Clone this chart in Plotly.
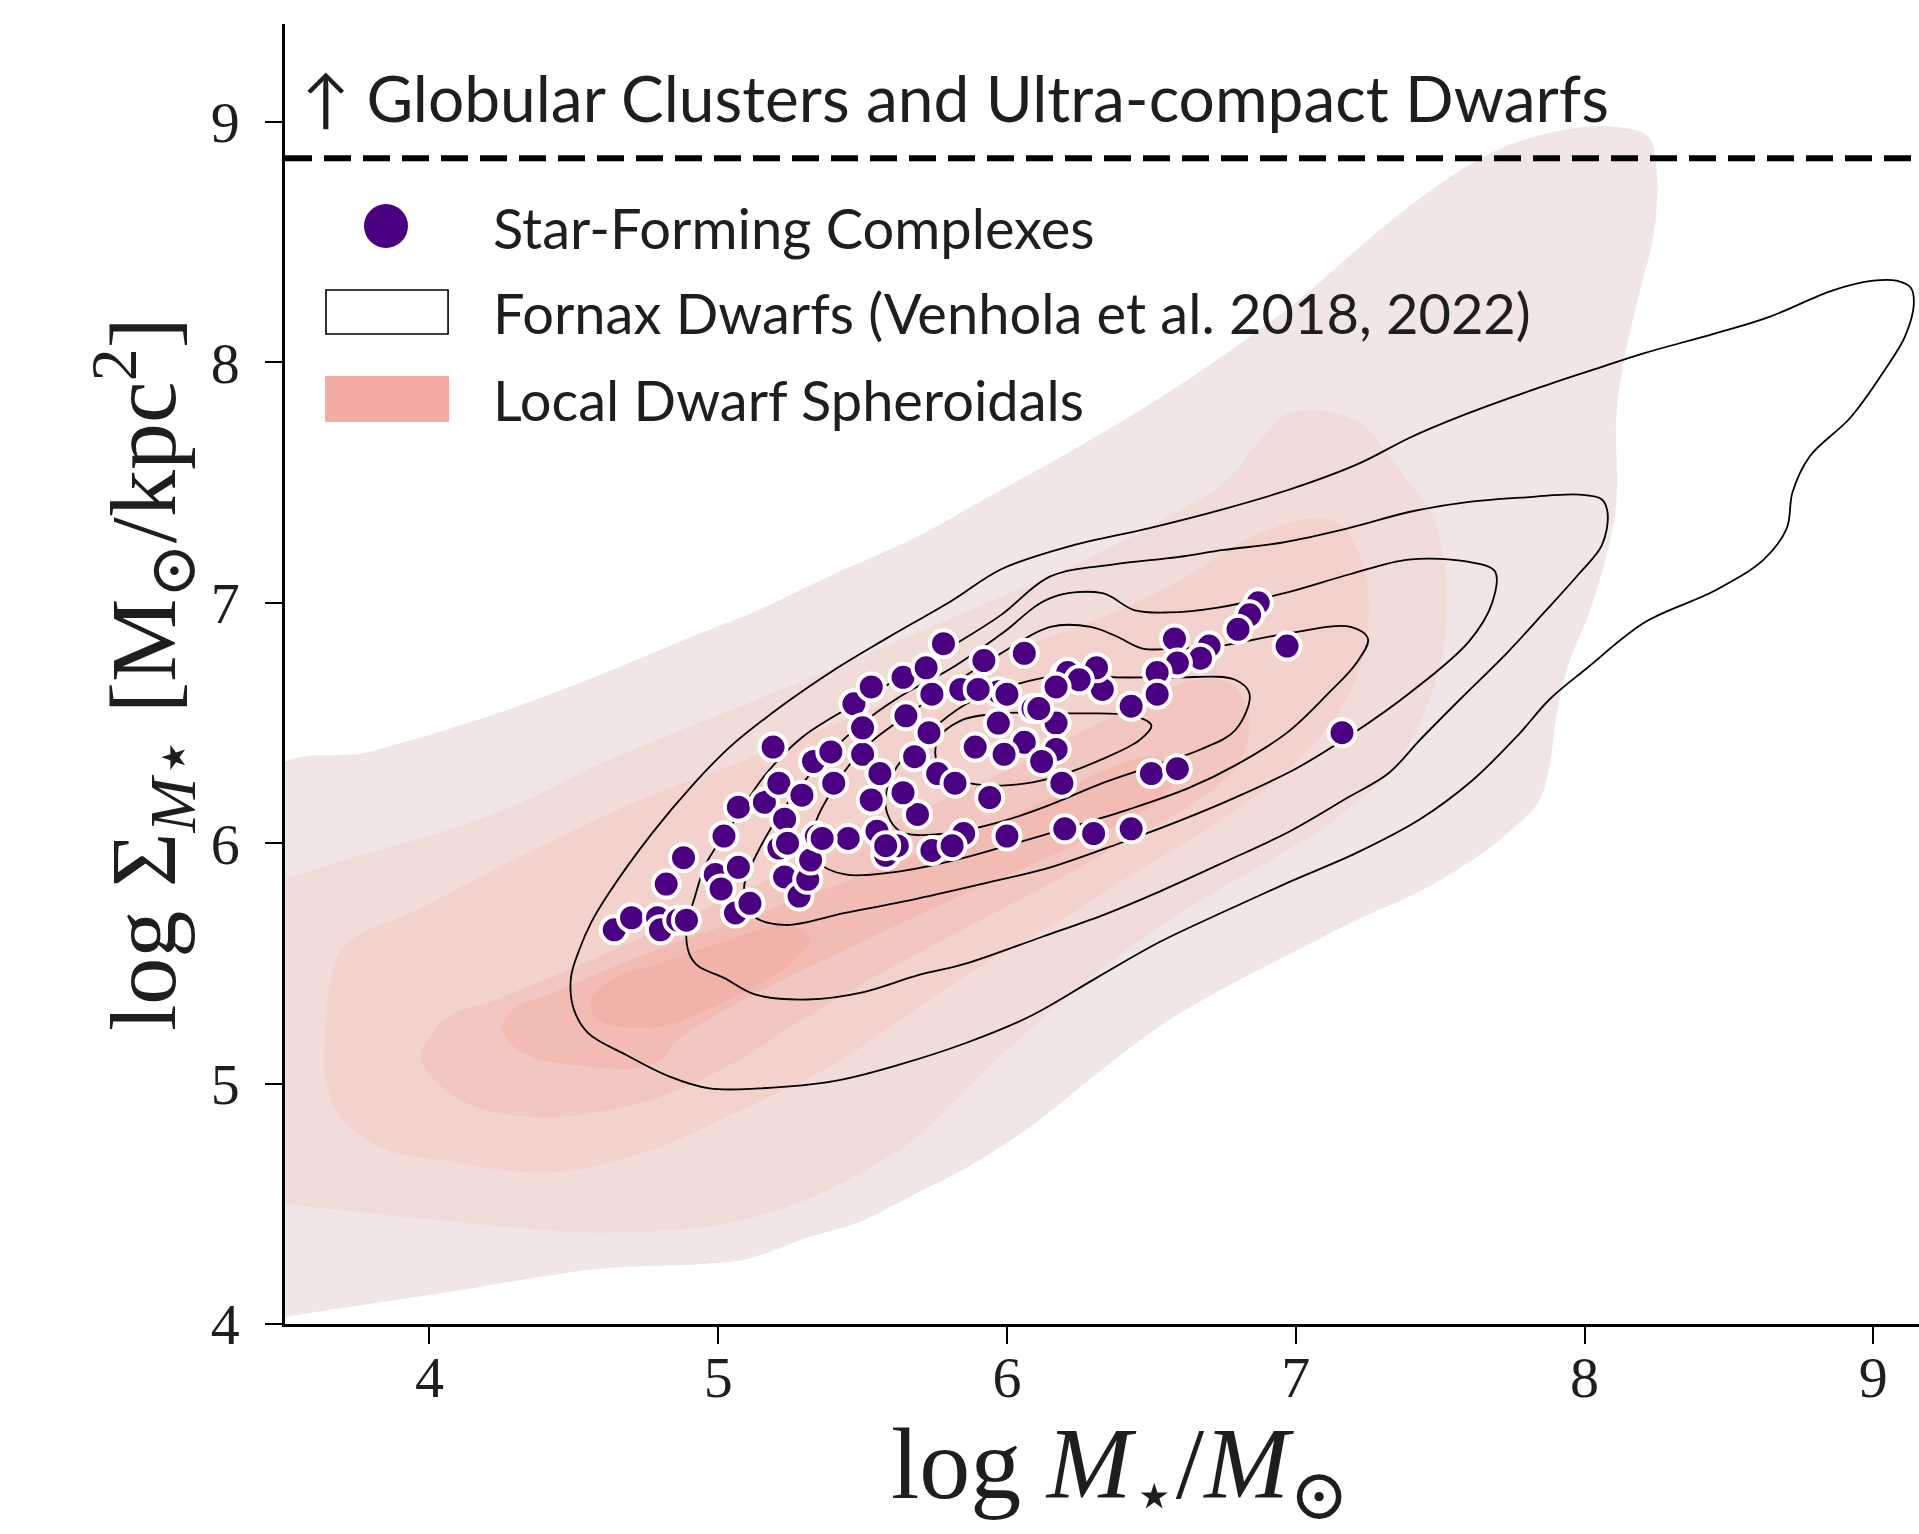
import plotly.graph_objects as go

# ---------------- data ----------------
# Star-forming complexes (log M*, log Sigma)
sfc_logm = [4.64, 4.70, 4.79, 4.80, 4.86, 4.89, 4.82, 4.88, 4.99, 5.01, 5.07, 5.06, 5.11, 5.02, 5.07,
            5.16, 5.19, 5.21, 5.23, 5.21, 5.23, 5.28, 5.31, 5.29, 5.32, 5.34, 5.33, 5.39, 5.40, 5.45,
            5.47, 5.50, 5.53, 5.53, 5.55, 5.56, 5.58, 5.62, 5.64, 5.65, 5.69, 5.74, 5.73, 5.72, 5.76,
            5.78, 5.84, 5.85, 5.89, 5.92, 5.97, 5.97, 5.94, 6.00, 6.06, 6.09, 6.06, 6.20, 5.50, 5.90,
            6.17, 5.99, 6.17, 5.68, 5.82, 6.19, 5.64, 5.74, 5.81, 6.20, 5.58, 5.24, 5.36, 6.87, 6.84,
            6.80, 6.97, 6.58, 6.70, 6.67, 6.59, 6.52, 6.52, 6.43, 6.33, 6.31, 6.21, 6.25, 6.17, 6.11,
            6.00, 6.12, 6.50, 6.59, 7.16, 6.30, 6.43]
sfc_logsig = [5.64, 5.69, 5.69, 5.64, 5.68, 5.68, 5.83, 5.94, 5.87, 5.81, 5.90, 5.71, 5.75, 6.03, 6.15,
              6.17, 6.40, 6.25, 6.10, 5.98, 5.86, 5.78, 5.85, 6.20, 5.93, 6.03, 6.34, 6.38, 6.25, 6.02,
              6.58, 6.37, 6.65, 6.18, 6.05, 6.29, 5.95, 5.99, 6.69, 6.53, 6.12, 6.62, 6.46, 6.73, 6.29,
              6.83, 6.64, 6.04, 6.40, 6.76, 6.63, 6.50, 6.19, 6.03, 6.79, 6.56, 6.42, 6.70, 6.48, 6.64,
              6.50, 6.37, 6.39, 6.36, 6.25, 6.25, 6.21, 5.97, 5.99, 6.06, 5.99, 6.00, 6.02, 7.00, 6.95,
              6.89, 6.82, 6.85, 6.82, 6.77, 6.75, 6.71, 6.62, 6.57, 6.64, 6.73, 6.71, 6.68, 6.65, 6.56,
              6.62, 6.34, 6.29, 6.31, 6.46, 6.04, 6.06]

# Fornax dwarfs density contours (outer -> inner)
fornax_c1_x = [4.50, 4.49, 4.52, 4.56, 4.62, 4.77, 4.91, 5.04, 5.23, 5.40, 5.58, 5.81, 5.98, 6.23, 6.49,
               6.75, 7.00, 7.22, 7.40, 7.60, 7.83, 8.03, 8.21, 8.45, 8.64, 8.86, 9.00, 9.08, 9.13, 9.14,
               9.11, 9.04, 8.92, 8.78, 8.72, 8.70, 8.62, 8.45, 8.21, 8.01, 7.88, 7.77, 7.61, 7.43, 7.21,
               6.98, 6.76, 6.53, 6.31, 6.08, 5.86, 5.63, 5.40, 5.14, 4.97, 4.83, 4.68, 4.55]
fornax_c1_y = [5.31, 5.44, 5.56, 5.67, 5.79, 6.04, 6.24, 6.40, 6.58, 6.72, 6.85, 7.01, 7.14, 7.24, 7.31,
               7.39, 7.48, 7.58, 7.69, 7.79, 7.89, 7.97, 8.04, 8.12, 8.19, 8.30, 8.34, 8.34, 8.31, 8.24,
               8.11, 7.97, 7.77, 7.61, 7.46, 7.31, 7.18, 7.05, 6.92, 6.73, 6.60, 6.45, 6.26, 6.10, 5.96,
               5.84, 5.72, 5.59, 5.44, 5.28, 5.17, 5.08, 5.01, 4.98, 4.98, 5.03, 5.12, 5.21]
fornax_c2_x = [4.90, 4.89, 4.92, 4.96, 5.06, 5.16, 5.29, 5.46, 5.63, 5.81, 5.98, 6.15, 6.37, 6.59, 6.75,
               6.95, 7.18, 7.40, 7.60, 7.81, 7.98, 8.06, 8.08, 8.06, 7.98, 7.86, 7.73, 7.57, 7.43, 7.32,
               7.18, 6.98, 6.75, 6.53, 6.33, 6.12, 5.86, 5.69, 5.50, 5.31, 5.13, 5.02, 4.93]
fornax_c2_y = [5.54, 5.64, 5.78, 5.92, 6.10, 6.28, 6.44, 6.57, 6.69, 6.82, 6.95, 7.11, 7.16, 7.19, 7.22,
               7.25, 7.31, 7.38, 7.42, 7.44, 7.45, 7.43, 7.37, 7.24, 7.12, 6.96, 6.79, 6.60, 6.43, 6.29,
               6.19, 6.05, 5.92, 5.80, 5.70, 5.61, 5.50, 5.45, 5.38, 5.35, 5.37, 5.44, 5.49]
fornax_c3_x = [7.69, 7.60, 7.39, 7.19, 6.96, 6.73, 6.56, 6.44, 6.33, 6.15, 5.98, 5.81, 5.63, 5.48, 5.35,
               5.23, 5.14, 5.09, 5.12, 5.23, 5.44, 5.69, 5.91, 6.15, 6.39, 6.59, 6.79, 7.00, 7.19, 7.40,
               7.60, 7.68]
fornax_c3_y = [7.13, 7.17, 7.18, 7.12, 7.04, 6.98, 6.96, 6.97, 7.04, 7.02, 6.87, 6.73, 6.61, 6.48, 6.33,
               6.15, 5.97, 5.82, 5.70, 5.66, 5.71, 5.77, 5.83, 5.90, 6.00, 6.09, 6.19, 6.31, 6.45, 6.63,
               6.84, 7.00]
fornax_c4_x = [7.25, 7.19, 6.96, 6.73, 6.59, 6.47, 6.38, 6.29, 6.15, 5.98, 5.81, 5.65, 5.50, 5.40, 5.33,
               5.35, 5.44, 5.61, 5.82, 6.03, 6.20, 6.42, 6.63, 6.80, 6.97, 7.11, 7.21]
fornax_c4_y = [6.85, 6.90, 6.87, 6.82, 6.81, 6.81, 6.86, 6.90, 6.90, 6.79, 6.66, 6.53, 6.39, 6.23, 6.05,
               5.92, 5.87, 5.88, 5.93, 6.00, 6.06, 6.14, 6.23, 6.33, 6.46, 6.62, 6.75]
fornax_c5_x = [6.84, 6.79, 6.58, 6.38, 6.20, 6.03, 5.86, 5.72, 5.61, 5.58, 5.63, 5.78, 5.98, 6.15, 6.33,
               6.50, 6.67, 6.79]
fornax_c5_y = [6.62, 6.68, 6.69, 6.69, 6.70, 6.66, 6.58, 6.45, 6.30, 6.15, 6.05, 6.04, 6.09, 6.16, 6.25,
               6.32, 6.39, 6.47]
fornax_c6_x = [6.50, 6.44, 6.21, 5.98, 5.84, 5.76, 5.76, 5.84, 5.98, 6.15, 6.33, 6.46]
fornax_c6_y = [6.49, 6.53, 6.54, 6.54, 6.51, 6.43, 6.33, 6.26, 6.24, 6.27, 6.35, 6.43]

# Local dwarf spheroidals filled density levels (outer -> inner)
lds_p1_x = [3.45, 3.79, 4.21, 4.59, 4.89, 5.14, 5.40, 5.68, 5.95, 6.22, 6.50, 6.75, 7.01, 7.26, 7.52,
            7.73, 7.94, 8.11, 8.22, 8.25, 8.24, 8.19, 8.14, 8.11, 8.11, 8.07, 8.01, 7.94, 7.90, 7.88,
            7.84, 7.75, 7.66, 7.43, 7.21, 6.98, 6.71, 6.53, 6.31, 6.08, 5.86, 5.68, 5.48, 5.31, 5.10,
            4.95, 4.59, 4.05, 3.50, 3.45]
lds_p1_y = [6.29, 6.38, 6.53, 6.70, 6.85, 6.97, 7.12, 7.27, 7.45, 7.63, 7.83, 8.03, 8.26, 8.52, 8.76,
            8.90, 8.97, 8.98, 8.94, 8.80, 8.54, 8.29, 8.03, 7.78, 7.42, 7.17, 6.94, 6.73, 6.51, 6.33,
            6.17, 6.06, 5.97, 5.80, 5.68, 5.54, 5.37, 5.24, 5.04, 4.82, 4.65, 4.54, 4.42, 4.36, 4.27,
            4.25, 4.23, 4.13, 4.03, 4.02]
lds_p2_x = [3.45, 3.50, 3.79, 4.05, 4.30, 4.59, 4.85, 5.14, 5.40, 5.68, 5.95, 6.22, 6.50, 6.75, 6.88,
            6.96, 7.09, 7.23, 7.36, 7.47, 7.52, 7.51, 7.45, 7.35, 7.18, 6.97, 6.75, 6.54, 6.34, 6.16,
            5.99, 5.82, 5.68, 5.48, 5.31, 5.04, 4.59, 4.05, 3.50, 3.45]
lds_p2_y = [5.83, 5.85, 5.96, 6.05, 6.16, 6.33, 6.46, 6.60, 6.73, 6.87, 7.01, 7.15, 7.32, 7.50, 7.68,
            7.78, 7.80, 7.74, 7.55, 7.37, 7.12, 6.81, 6.56, 6.33, 6.14, 5.97, 5.82, 5.66, 5.49, 5.31,
            5.13, 4.93, 4.77, 4.62, 4.52, 4.42, 4.38, 4.43, 4.50, 4.51]
lds_p3_x = [3.64, 3.66, 3.71, 3.97, 4.24, 4.60, 4.77, 5.06, 5.31, 5.68, 5.99, 6.33, 6.58, 6.84, 7.05,
            7.16, 7.24, 7.25, 7.20, 7.09, 6.92, 6.71, 6.46, 6.20, 5.91, 5.65, 5.40, 5.06, 4.76, 4.41,
            4.05, 3.84, 3.69, 3.64]
lds_p3_y = [5.20, 5.44, 5.58, 5.73, 5.90, 6.11, 6.20, 6.33, 6.45, 6.63, 6.79, 6.94, 7.08, 7.27, 7.35,
            7.32, 7.12, 6.91, 6.66, 6.45, 6.25, 6.07, 5.89, 5.69, 5.49, 5.28, 5.08, 4.88, 4.72, 4.63,
            4.68, 4.73, 4.86, 5.03]
lds_p4_x = [3.97, 4.01, 4.08, 4.23, 4.59, 4.89, 5.23, 5.57, 5.91, 6.20, 6.46, 6.65, 6.78, 6.84, 6.80,
            6.65, 6.42, 6.16, 5.91, 5.61, 5.31, 5.06, 4.76, 4.41, 4.17, 4.05]
lds_p4_y = [5.10, 5.21, 5.29, 5.35, 5.53, 5.69, 5.88, 6.07, 6.25, 6.43, 6.58, 6.68, 6.66, 6.51, 6.33,
            6.17, 6.01, 5.84, 5.68, 5.49, 5.28, 5.09, 4.93, 4.86, 4.90, 4.98]
lds_p5_x = [4.25, 4.30, 4.41, 4.77, 5.10, 5.44, 5.78, 6.08, 6.33, 6.50, 6.59, 6.54, 6.37, 6.12, 5.82,
            5.48, 5.14, 4.89, 4.77, 4.55, 4.32]
lds_p5_y = [5.23, 5.32, 5.37, 5.55, 5.69, 5.84, 6.00, 6.15, 6.30, 6.36, 6.31, 6.19, 6.07, 5.93, 5.77,
            5.58, 5.38, 5.21, 5.08, 5.07, 5.13]
lds_p6_x = [4.56, 4.64, 4.77, 5.02, 5.23, 5.32, 5.23, 5.02, 4.81, 4.64, 4.57]
lds_p6_y = [5.35, 5.44, 5.49, 5.59, 5.66, 5.61, 5.48, 5.34, 5.24, 5.24, 5.28]

lds_levels = [(lds_p1_x, lds_p1_y), (lds_p2_x, lds_p2_y), (lds_p3_x, lds_p3_y),
              (lds_p4_x, lds_p4_y), (lds_p5_x, lds_p5_y), (lds_p6_x, lds_p6_y)]
lds_colors = ["#efe6e5", "#f1dcd9", "#f3d1cc", "#f3c7c1", "#f2bcb5", "#f1b2aa"]
fornax_levels = [(fornax_c1_x, fornax_c1_y), (fornax_c2_x, fornax_c2_y), (fornax_c3_x, fornax_c3_y),
                 (fornax_c4_x, fornax_c4_y), (fornax_c5_x, fornax_c5_y), (fornax_c6_x, fornax_c6_y)]

gc_ucd_limit = 8.85
x_range = [3.5, 9.158]
y_range = [4.0, 9.408]
x_ticks = [4, 5, 6, 7, 8, 9]
y_ticks = [4, 5, 6, 7, 8, 9]

legend_labels = ["Star-Forming Complexes", "Fornax Dwarfs (Venhola et al. 2018, 2022)",
                 "Local Dwarf Spheroidals"]
title_text = "↑ Globular Clusters and Ultra-compact Dwarfs"
x_title = "log <i>M</i><sub>⋆</sub>/<i>M</i><sub>⊙</sub>"
y_title = "log Σ<sub><i>M</i>⋆</sub> [M<sub>⊙</sub>/kpc<sup>2</sup>]"

PURPLE = "#4b0082"
TEXT = "#1e1e1e"
SANS = "Lato, 'Open Sans', sans-serif"
SERIF = "'Liberation Serif', 'DejaVu Serif', serif"

# ---------------- figure ----------------
fig = go.Figure()

for (px, py), col in zip(lds_levels, lds_colors):
    fig.add_trace(go.Scatter(x=px + [px[0]], y=py + [py[0]], mode="lines", fill="toself",
                             fillcolor=col, line=dict(width=0, color=col, shape="spline", smoothing=1.0),
                             hoverinfo="skip", showlegend=False))

fig.add_trace(go.Scatter(x=x_range, y=[gc_ucd_limit, gc_ucd_limit], mode="lines",
                         line=dict(color="black", width=6, dash="27px,12px"),
                         hoverinfo="skip", showlegend=False))

for cx, cy in fornax_levels:
    fig.add_trace(go.Scatter(x=cx + [cx[0]], y=cy + [cy[0]], mode="lines",
                             line=dict(color="black", width=1.8, shape="spline", smoothing=1.0),
                             hoverinfo="skip", showlegend=False))

fig.add_trace(go.Scatter(x=sfc_logm, y=sfc_logsig, mode="markers",
                         marker=dict(size=27, color=PURPLE, line=dict(color="white", width=4)),
                         showlegend=False, cliponaxis=False))

# legend (drawn manually, matplotlib-style)
shapes = [
    dict(type="circle", xref="paper", yref="paper", xsizemode="pixel", ysizemode="pixel",
         xanchor=0.0618, yanchor=0.8446, x0=-22, x1=22, y0=-22, y1=22,
         fillcolor=PURPLE, line=dict(width=0)),
    dict(type="rect", xref="paper", yref="paper", x0=0.0251, x1=0.0998, y0=0.7615, y1=0.7954,
         fillcolor="white", line=dict(color="black", width=1.6)),
    dict(type="rect", xref="paper", yref="paper", x0=0.0245, x1=0.1004, y0=0.6938, y1=0.7292,
         fillcolor="#f2aca3", line=dict(width=0)),
]
annotations = [
    dict(text=title_text, xref="paper", yref="paper", x=0.0092, y=0.9431, xanchor="left",
         yanchor="middle", showarrow=False, font=dict(family=SANS, size=64, color=TEXT)),
    dict(text=x_title, xref="paper", yref="paper", x=0.511, y=-0.113, xanchor="center",
         yanchor="middle", showarrow=False, font=dict(family=SERIF, size=102, color=TEXT)),
]
for lab, yy in zip(legend_labels, [0.8431, 0.7777, 0.7108]):
    annotations.append(dict(text=lab, xref="paper", yref="paper", x=0.1261, y=yy, xanchor="left",
                            yanchor="middle", showarrow=False,
                            font=dict(family=SANS, size=56, color=TEXT)))

fig.update_layout(
    width=1919, height=1534,
    margin=dict(l=285, r=0, t=24, b=210),
    paper_bgcolor="white", plot_bgcolor="white",
    shapes=shapes, annotations=annotations,
    showlegend=False,
)
fig.update_xaxes(range=x_range, tickvals=x_ticks, ticks="outside", ticklen=17, tickwidth=2,
                 tickcolor="black", showline=True, linecolor="black", linewidth=2.5,
                 showgrid=False, zeroline=False, mirror=False, automargin=False,
                 tickfont=dict(family=SERIF, size=58, color=TEXT), ticklabelstandoff=-16)
fig.update_yaxes(range=y_range, tickvals=y_ticks, ticks="outside", ticklen=17, tickwidth=2,
                 tickcolor="black", showline=True, linecolor="black", linewidth=2.5,
                 showgrid=False, zeroline=False, mirror=False, automargin=False,
                 tickfont=dict(family=SERIF, size=58, color=TEXT), ticklabelstandoff=14,
                 title=dict(text=y_title, standoff=4, font=dict(family=SERIF, size=94, color=TEXT)))

fig.write_html("out.html")
